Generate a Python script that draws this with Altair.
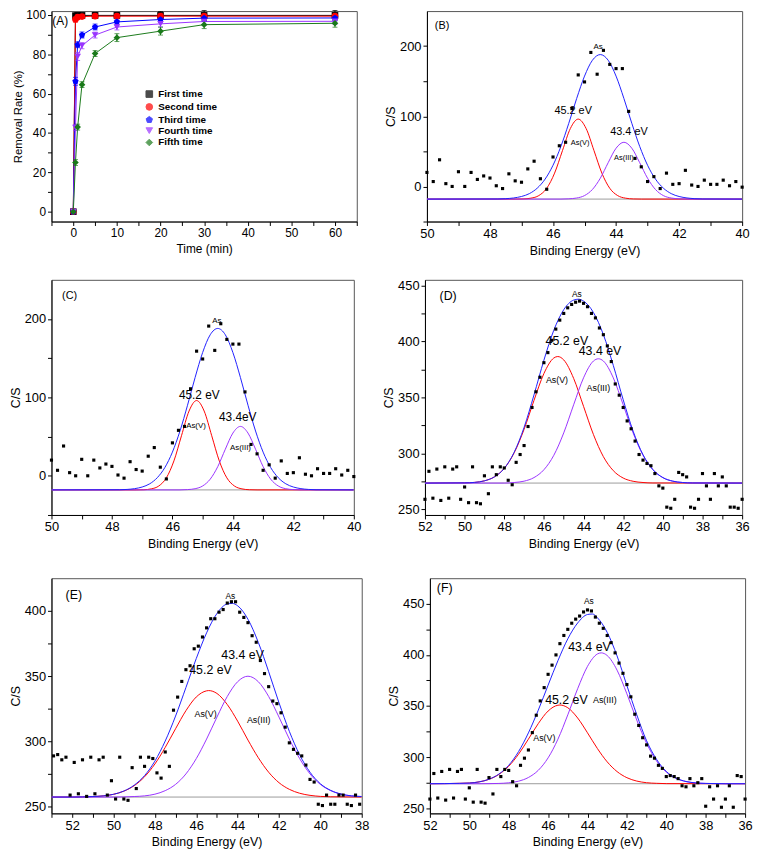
import altair as alt
import pandas as pd

FONT = "Liberation Sans"

# ---------------- Panel (A): removal rate vs time ----------------
time_min = [0, 0.5, 1, 2, 5, 10, 20, 30, 60]
series_names = ["First time", "Second time", "Third time", "Fourth time", "Fifth time"]
first_time = [0, 99.7, 99.8, 99.8, 99.8, 99.8, 99.8, 99.8, 99.8]
second_time = [0, 97.8, 98.9, 99.2, 99.4, 99.4, 99.4, 99.4, 99.4]
third_time = [0, 66.3, 84.9, 89.8, 93.9, 96.5, 97.7, 98.4, 98.5]
fourth_time = [0, 42.7, 78.9, 84.4, 89.8, 93.9, 95.5, 96.7, 96.8]
fifth_time = [0, 25.0, 43.0, 64.6, 80.4, 88.5, 91.8, 95.1, 95.8]
first_err = [0.8, 1.0, 1.0, 1.0, 1.5, 1.5, 2.0, 2.5, 2.5]
second_err = [0.8, 1.5, 1.0, 1.0, 1.0, 1.0, 1.5, 1.5, 1.5]
third_err = [0.8, 2.0, 1.5, 1.5, 1.5, 1.5, 1.5, 1.5, 1.5]
fourth_err = [0.8, 1.5, 2.0, 1.5, 1.5, 1.5, 1.5, 1.5, 1.5]
fifth_err = [0.8, 1.5, 1.5, 1.5, 1.5, 2.0, 2.0, 2.0, 2.0]
series_colors = ["#000000", "#ff0000", "#0000ff", "#9933ff", "#1a7a1a"]
pentagon = "M0,-1L0.951,-0.309L0.588,0.809L-0.588,0.809L-0.951,-0.309Z"
series_shapes = ["square", "circle", pentagon, "triangle-down", "diamond"]

# ---------------- XPS spectra (B)-(F) ----------------
# scatter: first binding energy, step 0.2 eV, measured counts
BC_pts_start = 50.0
BC_pts_y = [20, 7, 38, 4, 0, 21, 0, 20, 10, 15, 12, 1, -3, 18, 8, 6, 25, 36, 11, -4,
            42, 58, 63, 111, 159, 149, 191, 160, 194, 174, 168, 168, 107, 40, 28, 7, 14, -3, 19, 3,
            4, 23, 2, 0, 9, 3, 3, 9, 1, 7, -1]
BC_base = -18
BC_red_x = [50, 47.2, 46.95, 46.7, 46.45, 46.2, 45.95, 45.7, 45.45, 45.2, 44.95, 44.7, 44.45, 44.2, 43.95, 43.7, 43.45, 43.2, 40]
BC_red_y = [-18, -18, -17.8, -16.7, -13.0, -2.6, 19.0, 51.1, 82.6, 96.0, 82.6, 51.1, 19.0, -2.6, -13.0, -16.7, -17.8, -18, -18]
BC_pur_x = [50, 45.75, 45.5, 45.25, 45.0, 44.75, 44.5, 44.25, 44.0, 43.75, 43.5, 43.25, 43.0, 42.75, 42.5, 42.25, 42.0, 41.75, 40]
BC_pur_y = [-18, -18, -17.6, -16.5, -13.0, -4.3, 11.7, 33.9, 54.5, 63.0, 54.5, 33.9, 11.7, -4.3, -13.0, -16.5, -17.6, -18, -18]
BC_blu_x = [50, 47.75, 47.5, 47.25, 47.0, 46.75, 46.5, 46.25, 46.0, 45.75, 45.5, 45.25, 45.0, 44.75, 44.5,
            44.25, 44.0, 43.75, 43.5, 43.25, 43.0, 42.75, 42.5, 42.25, 42.0, 41.75, 41.5, 41.25, 40]
BC_blu_y = [-18, -17.8, -17.4, -16.4, -14.3, -10.2, -2.4, 10.5, 30.2, 57.1, 90.0, 125.3, 157.3, 179.9, 188.0,
            179.9, 157.3, 125.3, 90.0, 57.1, 30.2, 10.5, -2.4, -10.2, -14.3, -16.4, -17.4, -17.8, -18]

D_pts_start = 52.0
D_pts_y = [259, 284, 260, 286, 258, 288, 260, 286, 288, 259,
           270, 256, 288, 256, 255, 280, 264, 288, 281, 288,
           287, 276, 272, 292, 299, 307, 324, 341, 355, 368,
           381, 390, 401, 411, 419, 425, 430, 433, 435, 436,
           434, 431, 425, 421, 412, 406, 396, 382, 362, 352,
           341, 329, 322, 311, 299, 294, 291, 289, 282, 271,
           269, 252, 251, 259, 283, 281, 279, 252, 251, 259,
           282, 271, 259, 282, 271, 279, 271, 252, 252, 251, 259]
D_base = 273.5
D_red_x = [52, 50, 49.5, 49, 48.5, 48, 47.5, 47, 46.5, 46, 45.5, 45.3, 45, 44.5, 44, 43.5, 43, 42.5, 42, 41.5, 41, 40.5, 36]
D_red_y = [273.5, 273.7, 274.1, 275.5, 279.0, 286.6, 300.5, 321.5, 347.3, 371.3, 385.2, 386.5, 383.5, 367.0, 342.0,
           316.8, 297.1, 284.6, 278.0, 275.1, 274.0, 273.6, 273.5]
D_pur_x = [52, 48, 47.5, 47, 46.5, 46, 45.5, 45, 44.5, 44, 43.5, 43.25, 43, 42.5, 42, 41.5, 41, 40.5, 40, 39.5, 39, 38.5, 36]
D_pur_y = [273.5, 273.5, 274.0, 275.2, 278.4, 285.4, 298.3, 318.3, 343.4, 367.5, 382.5, 384.5, 382.5, 367.5, 343.4,
           318.3, 298.3, 285.4, 278.4, 275.2, 274.0, 273.6, 273.5]
D_blu_x = [52, 50, 49.5, 49, 48.5, 48, 47.5, 47, 46.5, 46, 45.5, 45, 44.5, 44.25, 44, 43.5, 43, 42.5, 42, 41.5, 41,
           40.5, 40, 39.5, 39, 38.5, 36]
D_blu_y = [273.5, 273.7, 274.1, 275.5, 279.0, 286.6, 301.0, 323.2, 352.2, 383.2, 410.0, 428.3, 436.9, 437.7, 436.0,
           425.8, 406.1, 378.6, 347.9, 319.9, 298.8, 285.5, 278.4, 275.2, 274.0, 273.6, 273.5]

E_pts_start = 52.9
E_pts_y = [289, 290, 286, 288, 259, 284, 260, 286, 258, 288, 260, 286, 288, 259, 270, 256, 288, 256, 255, 280,
           264, 288, 281, 288, 287, 276, 272, 292, 281, 324, 334, 346, 355, 358, 371, 373, 380, 387, 394, 394,
           399, 401, 406, 407, 407, 399, 395, 391, 381, 376, 362, 352, 342, 331, 329, 322, 311, 299, 294, 291,
           289, 282, 271, 269, 252, 251, 259, 252, 252, 259, 259, 252, 251, 259, 252]
E_base = 257.5
E_red_x = [53, 52, 51, 50.5, 50, 49.5, 49, 48.5, 48, 47.5, 47, 46.5, 46, 45.5, 45.4, 45, 44.5, 44, 43.5, 43, 42.5,
           42, 41.5, 41, 40.5, 40, 39.5, 38]
E_red_y = [257.5, 257.5, 257.9, 258.4, 259.6, 262.0, 266.2, 273.0, 282.8, 295.5, 309.8, 323.6, 334.1, 338.8, 339.0,
           336.8, 328.3, 315.6, 301.1, 287.6, 276.5, 268.5, 263.4, 260.4, 258.8, 258.0, 257.7, 257.5]
E_pur_x = [53, 50, 49.5, 49, 48.5, 48, 47.5, 47, 46.5, 46, 45.5, 45, 44.5, 44, 43.5, 43, 42.5, 42, 41.5, 41, 40.5,
           40, 39.5, 39, 38.5, 38]
E_pur_y = [257.5, 257.5, 257.6, 257.9, 258.4, 259.7, 262.4, 267.2, 275.2, 286.9, 301.9, 318.7, 334.5, 345.8, 350.0,
           345.8, 334.5, 318.7, 301.9, 286.9, 275.2, 267.2, 262.4, 259.7, 258.4, 257.9]
E_blu_x = [53, 52, 51, 50.5, 50, 49.5, 49, 48.5, 48, 47.5, 47, 46.5, 46, 45.5, 45, 44.5, 44.25, 44, 43.5, 43, 42.5,
           42, 41.5, 41, 40.5, 40, 39.5, 39, 38.5, 38]
E_blu_y = [257.5, 257.5, 257.9, 258.4, 259.6, 262.1, 266.6, 273.9, 285.0, 300.4, 319.5, 341.3, 363.5, 383.2, 398.0,
           405.3, 405.7, 403.9, 393.6, 375.9, 353.5, 329.7, 307.8, 289.8, 276.5, 267.7, 262.6, 259.8, 258.4, 257.9]

F_pts_start = 52.0
F_pts_y = [259, 284, 260, 286, 258, 288, 260, 286, 288, 259,
           270, 256, 288, 256, 255, 280, 264, 288, 281, 288,
           287, 276, 272, 292, 299, 307, 324, 341, 355, 368,
           381, 390, 400, 411, 419, 425, 431, 435, 438, 442,
           444, 443, 437, 431, 426, 419, 412, 402, 392, 382,
           371, 359, 342, 331, 319, 312, 301, 299, 292, 289,
           281, 282, 281, 279, 272, 271, 279, 272, 275, 279,
           252, 271, 259, 272, 251, 259, 272, 251, 282, 281, 259]
F_base = 274
F_red_x = [52, 50.5, 50, 49.5, 49, 48.5, 48, 47.5, 47, 46.5, 46, 45.5, 45.4, 45, 44.5, 44, 43.5, 43, 42.5, 42, 41.5,
           41, 40.5, 40, 36]
F_red_y = [274, 274.4, 274.7, 275.8, 278.3, 283.1, 291.1, 302.9, 317.6, 332.8, 345.1, 350.8, 351.0, 348.3, 338.3,
           323.8, 308.5, 295.4, 285.9, 279.9, 276.6, 275.0, 274.4, 274.1, 274]
F_pur_x = [52, 49.5, 49, 48.5, 48, 47.5, 47, 46.5, 46, 45.5, 45, 44.5, 44, 43.5, 43.3, 43, 42.5, 42, 41.5, 41, 40.5,
           40, 39.5, 39, 38.5, 38, 37, 36]
F_pur_y = [274, 274, 274.1, 274.3, 274.9, 276.5, 280.1, 287.1, 299.3, 317.6, 341.4, 366.9, 388.8, 400.9, 402.0,
           399.4, 385.1, 361.9, 336.3, 313.5, 296.4, 285.4, 279.2, 276.1, 274.8, 274.3, 274, 274]
F_blu_x = [52, 50.5, 50, 49.5, 49, 48.5, 48, 47.5, 47, 46.5, 46, 45.5, 45, 44.5, 44, 43.75, 43.5, 43, 42.5, 42,
           41.5, 41, 40.5, 40, 39.5, 39, 38.5, 38, 37, 36]
F_blu_y = [274, 274.4, 274.7, 275.8, 278.4, 283.4, 292.0, 305.4, 323.7, 345.9, 370.4, 394.4, 415.7, 431.2, 439.5,
           440.0, 436.4, 422.0, 399.0, 370.0, 341.5, 316.0, 298.0, 286.0, 279.5, 276.2, 274.8, 274.3, 274, 274]

# annotations (text, binding energy, counts, font size)
B_ann_text = ["(B)", "As", "45.2 eV", "As(V)", "43.4 eV", "As(III)"]
B_ann_x = [49.52, 44.57, 45.36, 45.14, 43.59, 43.75]
B_ann_y = [228.8, 198.8, 107.4, 62.3, 77.4, 40.5]
B_ann_fs = [11, 8, 11, 7.5, 11, 7.5]
C_ann_text = ["(C)", "As", "45.2 eV", "As(V)", "43.4eV", "As(III)"]
C_ann_x = [49.4, 44.53, 45.11, 45.22, 43.84, 43.75]
C_ann_y = [229, 197.8, 103, 64, 74.7, 35.3]
C_ann_fs = [11, 8, 12, 8, 12, 8]
D_ann_text = ["(D)", "As", "45.2 eV", "43.4 eV", "As(V)", "As(III)"]
D_ann_x = [50.83, 44.34, 44.84, 43.17, 45.34, 43.25]
D_ann_y = [440.3, 442.3, 400.4, 391.6, 365.6, 358.6]
D_ann_fs = [12.5, 8.5, 12.5, 12.5, 9, 9]
E_ann_text = ["(E)", "As", "45.2 eV", "43.4 eV", "As(V)", "As(III)"]
E_ann_x = [51.92, 44.35, 45.31, 43.76, 45.55, 42.98]
E_ann_y = [412.2, 411.1, 354.4, 366.1, 321, 316.4]
E_ann_fs = [12.5, 8.5, 12.5, 12.5, 9, 9]
F_ann_text = ["(F)", "As", "43.4 eV", "45.2 eV", "As(III)", "As(V)"]
F_ann_x = [51.25, 43.93, 43.9, 45.07, 43.12, 46.19]
F_ann_y = [465.2, 452.3, 408.1, 356.1, 356.1, 318.4]
F_ann_fs = [12.5, 8.5, 12.5, 12.5, 9, 9]

RED = "#ff0000"
PURPLE = "#9933ff"
BLUE = "#1f1fff"


# ---------------- build panel (A) ----------------
series_values = [first_time, second_time, third_time, fourth_time, fifth_time]
series_errors = [first_err, second_err, third_err, fourth_err, fifth_err]
rowsA = []
for nm, vals, errs in zip(series_names, series_values, series_errors):
    for t, v, e in zip(time_min, vals, errs):
        rowsA.append({"t": t, "rate": v, "lo": v - e, "hi": v + e, "series": nm})
dfA = pd.DataFrame(rowsA)

xA_scale = alt.Scale(domain=[-5, 65], nice=False, zero=False)
yA_scale = alt.Scale(domain=[-5, 102], nice=False, zero=False)
xA_axis = alt.Axis(values=list(range(-5, 66, 5)), labelExpr="datum.value % 10 == 0 ? datum.label : ''",
                   title="Time (min)", labelFontSize=12, titleFontSize=12, titlePadding=5)
yA_axis = alt.Axis(values=list(range(0, 101, 10)), labelExpr="datum.value % 20 == 0 ? datum.label : ''",
                   title="Removal Rate (%)", labelFontSize=12, titleFontSize=11.5, titlePadding=2)
XA = alt.X("t:Q", scale=xA_scale, axis=xA_axis)
YA = alt.Y("rate:Q", scale=yA_scale, axis=yA_axis)
colA_scale = alt.Scale(domain=series_names, range=series_colors)
shpA_scale = alt.Scale(domain=series_names, range=series_shapes)
legA = alt.Legend(orient="none", legendX=94, legendY=79, title=None, labelFontWeight="bold",
                  labelFontSize=10, labelFont=FONT, symbolSize=45, rowPadding=1, padding=0,
                  symbolStrokeWidth=1, labelColor="black")
colA = alt.Color("series:N", scale=colA_scale, legend=legA)
shpA = alt.Shape("series:N", scale=shpA_scale, legend=legA)

linesA = alt.Chart(dfA).mark_line(strokeWidth=1).encode(x=XA, y=YA, color=colA, detail="series:N")
errA = alt.Chart(dfA).mark_errorbar(ticks=True).encode(
    x=XA, y=alt.Y("lo:Q", scale=yA_scale, axis=yA_axis), y2="hi:Q", color=colA)
ptsA = alt.Chart(dfA).mark_point(filled=True, size=45, opacity=1).encode(x=XA, y=YA, color=colA, shape=shpA)
labA = alt.Chart(pd.DataFrame({"t": [-3.0], "rate": [96.7], "text": ["(A)"]})).mark_text(
    font=FONT, fontSize=12, color="black").encode(x=XA, y=YA, text="text:N")
panelA = alt.layer(linesA, errA, ptsA, labA).properties(width=309, height=213)


# ---------------- build XPS panels ----------------
def xps_panel(pts_start, pts_y, red, pur, blu, base, xdom, xticks, ydom, yticks, ystep,
              ann_text, ann_x, ann_y, ann_fs, w, h):
    X = alt.X("x:Q", scale=alt.Scale(domain=xdom, reverse=True, nice=False, zero=False),
              axis=alt.Axis(values=xticks, labelExpr="datum.value % 2 == 0 ? datum.label : ''",
                            title="Binding Energy (eV)"))
    Y = alt.Y("y:Q", scale=alt.Scale(domain=ydom, nice=False, zero=False),
              axis=alt.Axis(values=yticks, labelExpr=f"datum.value % {ystep} == 0 ? datum.label : ''",
                            title="C/S", titlePadding=2))
    pts = pd.DataFrame({"x": [round(pts_start - 0.2 * i, 2) for i in range(len(pts_y))], "y": pts_y})
    layers = [alt.Chart(pd.DataFrame({"y": [base]})).mark_rule(color="#9a9a9a", strokeWidth=1).encode(y=Y)]
    for (cx, cy), colr in zip([red, pur, blu], [RED, PURPLE, BLUE]):
        layers.append(alt.Chart(pd.DataFrame({"x": cx, "y": cy})).mark_line(
            color=colr, strokeWidth=1, interpolate="monotone", clip=True).encode(x=X, y=Y))
    layers.append(alt.Chart(pts).mark_square(size=10, color="black", opacity=1).encode(x=X, y=Y))
    ann = pd.DataFrame({"text": ann_text, "x": ann_x, "y": ann_y, "fs": ann_fs})
    layers.append(alt.Chart(ann).mark_text(font=FONT, color="black", baseline="middle", align="center").encode(
        x=X, y=Y, text="text:N", size=alt.Size("fs:Q", scale=None, legend=None)))
    return alt.layer(*layers).properties(width=w, height=h)


panelB = xps_panel(BC_pts_start, BC_pts_y, (BC_red_x, BC_red_y), (BC_pur_x, BC_pur_y), (BC_blu_x, BC_blu_y),
                   BC_base, [40, 50], list(range(40, 51)), [-50, 250], list(range(-50, 201, 50)), 100,
                   B_ann_text, B_ann_x, B_ann_y, B_ann_fs, 319, 213)
panelC = xps_panel(BC_pts_start, BC_pts_y, (BC_red_x, BC_red_y), (BC_pur_x, BC_pur_y), (BC_blu_x, BC_blu_y),
                   BC_base, [40, 50], list(range(40, 51)), [-50, 250], list(range(-50, 201, 50)), 100,
                   C_ann_text, C_ann_x, C_ann_y, C_ann_fs, 306, 238)
panelD = xps_panel(D_pts_start, D_pts_y, (D_red_x, D_red_y), (D_pur_x, D_pur_y), (D_blu_x, D_blu_y),
                   D_base, [36, 52], list(range(36, 53)), [245, 455], list(range(250, 451, 25)), 50,
                   D_ann_text, D_ann_x, D_ann_y, D_ann_fs, 321, 238)
panelE = xps_panel(E_pts_start, E_pts_y, (E_red_x, E_red_y), (E_pur_x, E_pur_y), (E_blu_x, E_blu_y),
                   E_base, [38, 53], list(range(38, 54)), [245, 425], list(range(250, 401, 25)), 50,
                   E_ann_text, E_ann_x, E_ann_y, E_ann_fs, 314, 238)
panelF = xps_panel(F_pts_start, F_pts_y, (F_red_x, F_red_y), (F_pur_x, F_pur_y), (F_blu_x, F_blu_y),
                   F_base, [36, 52], list(range(36, 53)), [245, 475], list(range(250, 451, 25)), 50,
                   F_ann_text, F_ann_x, F_ann_y, F_ann_fs, 319, 238)

row1 = alt.hconcat(panelA, panelB, spacing=26).resolve_scale(x="independent", y="independent")
row2 = alt.hconcat(panelC, panelD, spacing=20).resolve_scale(x="independent", y="independent")
row3 = alt.hconcat(panelE, panelF, spacing=17).resolve_scale(x="independent", y="independent")
rows23 = alt.vconcat(row2, row3, spacing=27).resolve_scale(x="independent", y="independent")

chart = alt.vconcat(row1, rows23, spacing=22).resolve_scale(
    x="independent", y="independent"
).properties(padding={"top": -5, "left": 0, "right": 0, "bottom": 0}).configure(font=FONT).configure_view(
    stroke="#555555", strokeWidth=1
).configure_axis(
    grid=False, domainColor="black", tickColor="black", labelColor="black", titleColor="black",
    labelFont=FONT, titleFont=FONT, titleFontWeight="normal", tickSize=4, labelFontSize=13,
    titleFontSize=12.5, labelPadding=2, titlePadding=4, labelFlush=False
)

chart.save("out.html", embed_options={"renderer": "svg", "actions": False})
